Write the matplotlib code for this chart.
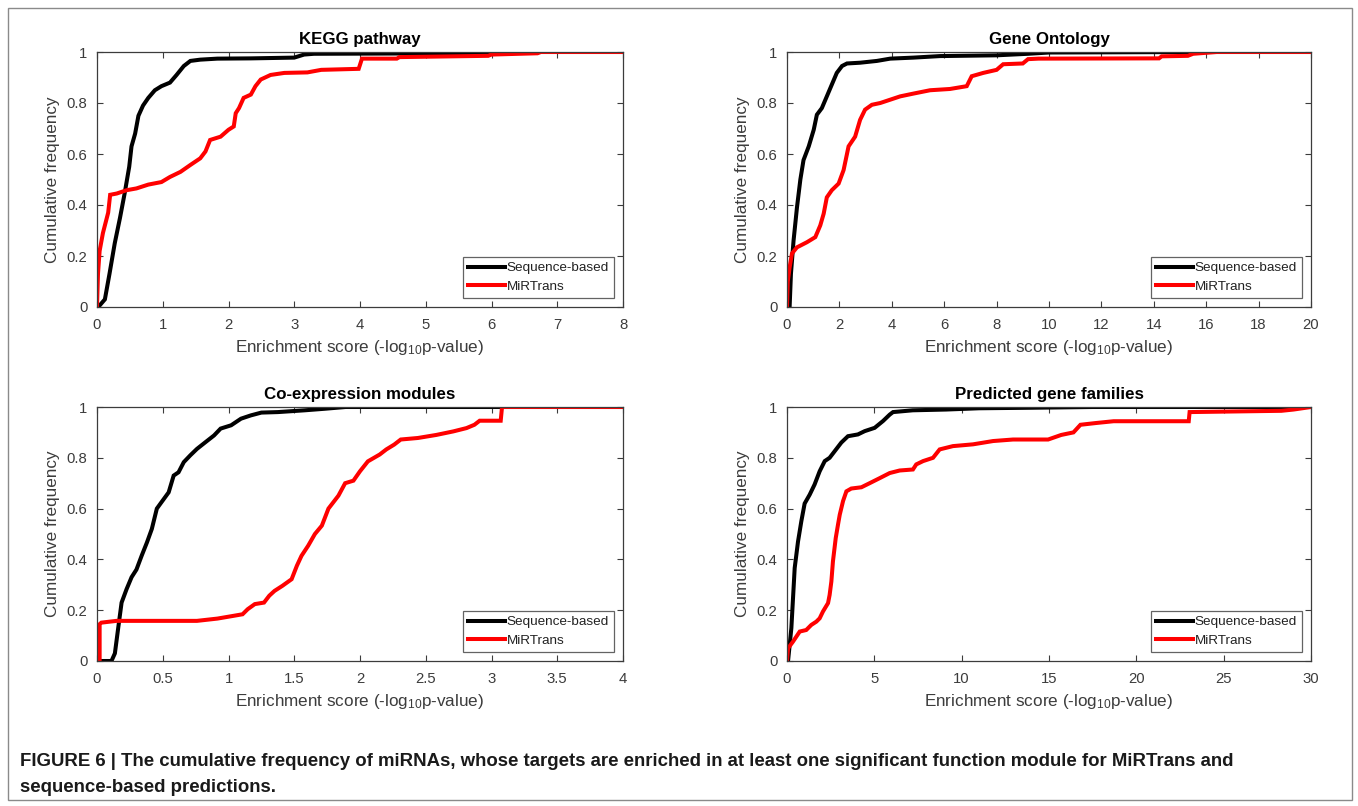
import matplotlib
matplotlib.use("Agg")
import matplotlib.pyplot as plt
from matplotlib.patches import Rectangle
from matplotlib.ticker import FuncFormatter

plt.rcParams['font.family'] = ['Liberation Sans', 'DejaVu Sans']
plt.rcParams['mathtext.default'] = 'regular'

# ---------------- data ----------------
titles = ["KEGG pathway", "Gene Ontology", "Co-expression modules", "Predicted gene families"]
series_names = ["Sequence-based", "MiRTrans"]
xlims = [8, 20, 4, 30]
xticks_list = [[0, 1, 2, 3, 4, 5, 6, 7, 8],
               [0, 2, 4, 6, 8, 10, 12, 14, 16, 18, 20],
               [0, 0.5, 1, 1.5, 2, 2.5, 3, 3.5, 4],
               [0, 5, 10, 15, 20, 25, 30]]
yticks = [0, 0.2, 0.4, 0.6, 0.8, 1]

kegg_seq_x = [0.02, 0.12, 0.19, 0.27, 0.35, 0.42, 0.49, 0.525, 0.58, 0.63, 0.70, 0.78, 0.88, 0.98,
              1.11, 1.21, 1.32, 1.42, 1.57, 1.83, 2.34, 3.0, 3.15, 3.3, 5.7, 5.8, 8.0]
kegg_seq_y = [0, 0.03, 0.13, 0.25, 0.35, 0.445, 0.55, 0.63, 0.68, 0.75, 0.79, 0.82, 0.85, 0.866,
              0.88, 0.91, 0.945, 0.965, 0.97, 0.974, 0.975, 0.978, 0.99, 0.993, 0.995, 1.0, 1.0]
kegg_mir_x = [0, 0.015, 0.04, 0.09, 0.17, 0.2, 0.30, 0.45, 0.60, 0.78, 0.98, 1.11, 1.27, 1.42, 1.57,
              1.65, 1.72, 1.88, 2.0, 2.08, 2.11, 2.16, 2.23, 2.34, 2.41, 2.49, 2.64, 2.85, 3.2, 3.41,
              3.98, 4.03, 4.56, 4.6, 5.95, 6.0, 6.7, 6.75, 8.0]
kegg_mir_y = [0, 0.13, 0.22, 0.29, 0.37, 0.44, 0.445, 0.458, 0.465, 0.48, 0.49, 0.51, 0.53, 0.557, 0.583,
              0.61, 0.655, 0.668, 0.695, 0.708, 0.76, 0.78, 0.82, 0.833, 0.866, 0.892, 0.91, 0.918, 0.92, 0.93,
              0.934, 0.974, 0.974, 0.98, 0.985, 0.99, 0.995, 1.0, 1.0]

go_seq_x = [0.1, 0.15, 0.25, 0.38, 0.51, 0.63, 0.83, 1.02, 1.14, 1.33, 1.52, 1.71, 1.90, 2.10, 2.29,
            2.79, 3.43, 3.94, 4.83, 5.84, 8.0, 9.2, 10.0, 16.0, 20.0]
go_seq_y = [0, 0.13, 0.26, 0.39, 0.50, 0.576, 0.63, 0.695, 0.754, 0.78, 0.826, 0.872, 0.918, 0.945, 0.955,
            0.958, 0.965, 0.974, 0.978, 0.984, 0.987, 0.993, 0.998, 1.0, 1.0]
go_mir_x = [0, 0.03, 0.1, 0.19, 0.38, 0.76, 1.08, 1.27, 1.40, 1.52, 1.71, 1.97, 2.16, 2.35, 2.60, 2.79,
            2.98, 3.24, 3.56, 3.94, 4.32, 4.83, 5.46, 6.22, 6.86, 7.05, 7.49, 8.0, 8.25, 9.0, 9.2, 9.6,
            14.2, 14.3, 15.3, 15.5, 16.4, 20.0]
go_mir_y = [0, 0.10, 0.155, 0.21, 0.234, 0.254, 0.274, 0.32, 0.366, 0.43, 0.458, 0.484, 0.537, 0.63, 0.668,
            0.734, 0.774, 0.793, 0.80, 0.813, 0.826, 0.837, 0.85, 0.855, 0.866, 0.905, 0.918, 0.93, 0.952,
            0.955, 0.972, 0.974, 0.975, 0.983, 0.985, 0.993, 1.0, 1.0]

coexp_seq_x = [0, 0.11, 0.136, 0.16, 0.187, 0.225, 0.263, 0.30, 0.34, 0.38, 0.417, 0.455, 0.49, 0.545,
               0.583, 0.62, 0.66, 0.71, 0.76, 0.826, 0.89, 0.94, 1.02, 1.095, 1.17, 1.25, 1.376, 1.58,
               1.73, 1.89, 4.0]
coexp_seq_y = [0, 0, 0.03, 0.125, 0.23, 0.283, 0.33, 0.36, 0.415, 0.467, 0.52, 0.60, 0.625, 0.664,
               0.73, 0.743, 0.783, 0.81, 0.835, 0.862, 0.888, 0.915, 0.928, 0.954, 0.967, 0.978, 0.98, 0.987,
               0.993, 1.0, 1.0]
coexp_mir_x = [0, 0.02, 0.02, 0.033, 0.148, 0.455, 0.76, 0.916, 1.04, 1.107, 1.146, 1.2, 1.27, 1.31, 1.35,
               1.41, 1.48, 1.52, 1.555, 1.606, 1.657, 1.71, 1.76, 1.836, 1.887, 1.95, 2.0, 2.06, 2.15, 2.2,
               2.26, 2.31, 2.44, 2.58, 2.71, 2.81, 2.87, 2.91, 3.07, 3.08, 4.0]
coexp_mir_y = [0, 0, 0.145, 0.151, 0.158, 0.158, 0.158, 0.167, 0.178, 0.184, 0.204, 0.224, 0.23, 0.257, 0.276,
               0.296, 0.322, 0.375, 0.414, 0.454, 0.50, 0.533, 0.60, 0.651, 0.70, 0.71, 0.747, 0.786, 0.813, 0.833,
               0.852, 0.872, 0.878, 0.89, 0.904, 0.917, 0.93, 0.946, 0.946, 1.0, 1.0]

fam_seq_x = [0.06, 0.25, 0.44, 0.63, 0.82, 1.01, 1.30, 1.58, 1.87, 2.16, 2.44, 2.73, 3.11, 3.49, 4.06,
             4.45, 5.02, 5.5, 5.88, 6.07, 7.2, 9.1, 11.0, 13.9, 17.5, 30.0]
fam_seq_y = [0, 0.13, 0.366, 0.47, 0.55, 0.62, 0.655, 0.695, 0.747, 0.787, 0.80, 0.826, 0.86, 0.885, 0.892,
             0.905, 0.918, 0.945, 0.97, 0.98, 0.987, 0.99, 0.995, 0.997, 1.0, 1.0]
fam_mir_x = [0, 0.06, 0.34, 0.73, 1.1, 1.39, 1.68, 1.87, 2.06, 2.35, 2.44, 2.54, 2.63, 2.79, 2.92, 3.02,
             3.21, 3.40, 3.68, 4.26, 4.73, 5.31, 5.88, 6.45, 7.21, 7.4, 7.79, 8.36, 8.74, 9.5, 10.65, 11.8,
             12.94, 14.95, 15.7, 16.4, 16.8, 17.7, 18.7, 23.0, 23.05, 28.3, 29.0, 30.0]
fam_mir_y = [0, 0.05, 0.076, 0.116, 0.122, 0.142, 0.155, 0.168, 0.195, 0.228, 0.26, 0.313, 0.392, 0.484,
             0.537, 0.576, 0.63, 0.668, 0.679, 0.684, 0.70, 0.72, 0.74, 0.75, 0.754, 0.774, 0.787, 0.80, 0.833,
             0.846, 0.853, 0.866, 0.872, 0.872, 0.89, 0.90, 0.93, 0.937, 0.944, 0.944, 0.98, 0.985, 0.99, 1.0]

seq_x = [kegg_seq_x, go_seq_x, coexp_seq_x, fam_seq_x]
seq_y = [kegg_seq_y, go_seq_y, coexp_seq_y, fam_seq_y]
mir_x = [kegg_mir_x, go_mir_x, coexp_mir_x, fam_mir_x]
mir_y = [kegg_mir_y, go_mir_y, coexp_mir_y, fam_mir_y]

caption_lines = ["FIGURE 6 | The cumulative frequency of miRNAs, whose targets are enriched in at least one "
                 "significant function module for MiRTrans and",
                 "sequence-based predictions."]

# ---------------- figure ----------------
W, H = 1358, 806
fig = plt.figure(figsize=(W / 100, H / 100), dpi=100)
fig.patch.set_facecolor('white')

# outer frame
fig.patches.append(Rectangle((8 / W, 6 / H), (1352 - 8) / W, (798 - 6) / H, transform=fig.transFigure,
                             fill=False, edgecolor='#8a8a8a', linewidth=1.0))

def px_axes(l, r, t, b):
    return [l / W, 1 - b / H, (r - l) / W, (b - t) / H]

positions = [px_axes(97, 623, 52, 307), px_axes(787, 1311, 52, 307),
             px_axes(97, 623, 407, 661), px_axes(787, 1311, 407, 661)]

axc = '#3c3c3c'
fmt = FuncFormatter(lambda v, p: ('%g' % v))

for i in range(4):
    ax = fig.add_axes(positions[i])
    ax.plot(seq_x[i], seq_y[i], color='black', lw=2.9, label=series_names[0], solid_joinstyle='miter')
    ax.plot(mir_x[i], mir_y[i], color='#ff0000', lw=2.9, label=series_names[1], solid_joinstyle='miter')
    ax.set_xlim(0, xlims[i])
    ax.set_ylim(0, 1)
    ax.set_xticks(xticks_list[i])
    ax.set_yticks(yticks)
    ax.xaxis.set_major_formatter(fmt)
    ax.yaxis.set_major_formatter(fmt)
    ax.tick_params(direction='in', length=4, width=0.8, top=True, right=True,
                   labelsize=10.7, colors=axc)
    ax.tick_params(axis='x', pad=8)
    ax.tick_params(axis='y', pad=7)
    for s in ax.spines.values():
        s.set_color(axc)
        s.set_linewidth(0.9)
    ax.set_title(titles[i], fontsize=12.2, fontweight='bold', pad=6)
    ax.set_xlabel(r'Enrichment score (-log$_{10}$p-value)', fontsize=12.3, color=axc, labelpad=4)
    ax.set_ylabel('Cumulative frequency', fontsize=12.3, color=axc, labelpad=5)
    leg = ax.legend(loc='lower right', fontsize=9.7, frameon=True, fancybox=False,
                    handlelength=2.7, handletextpad=0.15, borderpad=0.35, labelspacing=0.45,
                    borderaxespad=0.7)
    leg.get_frame().set_edgecolor(axc)
    leg.get_frame().set_linewidth(0.9)
    for t in leg.get_texts():
        t.set_color('#222222')

fig.text(20 / W, 1 - 762 / H, caption_lines[0], fontsize=13.4, fontweight='bold', color='#1a1a1a',
         va='center', ha='left')
fig.text(20 / W, 1 - 787 / H, caption_lines[1], fontsize=13.4, fontweight='bold', color='#1a1a1a',
         va='center', ha='left')

fig.savefig('out.png', dpi=100)
